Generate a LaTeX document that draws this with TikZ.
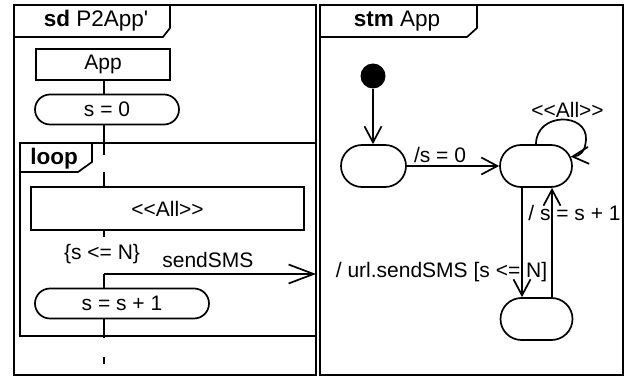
\documentclass[tikz,border=0pt]{standalone}
\usepackage{fontspec}
\setmainfont{Liberation Sans}[Ligatures=TeXOff]
\usetikzlibrary{arrows.meta,shapes.misc}
\tikzset{
  txt/.style={font=\fontsize{21}{25}\selectfont, inner sep=0pt},
  head/.style={font=\fontsize{22.5}{26}\selectfont, inner sep=0pt, anchor=base},
  actbox/.style={draw, txt, minimum width=#1, minimum height=31pt},
  action/.style={draw, txt, rounded rectangle, minimum width=#1, minimum height=30pt},
  state/.style={draw, rounded rectangle, minimum width=#1, minimum height=42pt, inner sep=0pt},
  barb/.style={-{Straight Barb[length=16pt,width=17pt]}},
  life/.style={line width=1.7pt}
}
\begin{document}
\begin{tikzpicture}[x=1pt,y=-1pt,line width=1.7pt]
\useasboundingbox (0,0) rectangle (628,379);
% sd frame
\draw (14,5) rectangle (316,375);
\draw (14,37) -- (163,37) -- (170,28) -- (170,5);
\node[head] (sdname) at (96,27) {\textbf{sd} P2App'};
% loop fragment
\draw (20,143) rectangle (316,336);
\draw (20,172) -- (78,172) -- (92,162) -- (92,143);
\node[head] (loopname) at (54,165) {\textbf{loop}};
% lifeline
\coordinate (ll) at (104,0);
\node[actbox=134] (app) at (103,64.5) {App};
\node[action=144] (init0) at (107,109.5) {s = 0};
\node[actbox=273, minimum height=43pt] (all) at (167.5,208.5) {<<All>>};
\node[txt, anchor=base] (guard) at (102,259) {\{s <= N\}};
\node[action=174] (inc) at (122,303.5) {s = s + 1};
\coordinate (g1a) at (104,155);
\coordinate (g1b) at (104,172);
\coordinate (g2a) at (104,237);
\coordinate (g2b) at (104,274);
\coordinate (g3a) at (104,338);
\coordinate (g3b) at (104,357);
\coordinate (lend) at (104,364);
\draw[life] (app.south -| ll) -- (init0.north -| ll);
\draw[life] (init0.south -| ll) -- (g1a);
\draw[life] (g1b) -- (all.north -| ll);
\draw[life] (all.south -| ll) -- (g2a);
\draw[life] (g2b) -- (inc.north -| ll);
\draw[life] (inc.south -| ll) -- (g3a);
\draw[life] (g3b) -- (lend);
% message to the gate
\coordinate (gate) at (316,274);
\draw[-{Straight Barb[length=25pt,width=19pt]}] (g2b) -- (gate)
  node[txt, pos=0.49, above=5pt] (sendmsg) {sendSMS};
% stm frame
\draw (320,5) rectangle (623,375);
\draw (320,37) -- (467,37) -- (477,28) -- (477,5);
\node[head] (stmname) at (397,27) {\textbf{stm} App};
\node[circle, fill, minimum size=25pt, inner sep=0pt] (start) at (373,76) {};
\node[state=65] (s1) at (373.5,166) {};
\node[state=72] (s2) at (536,166) {};
\node[state=72] (s3) at (536.5,319) {};
\coordinate (dn) at (522,0);
\coordinate (up) at (552,0);
\coordinate (loopr) at (586,140);
\draw[barb] (start) -- (start |- s1.north);
\draw[barb] (s1) -- (s2);
\node[txt, anchor=base] (lab0) at (440,163) {/s = 0};
\draw[barb] (s2.north) .. controls (536,112) and (588,112) .. (loopr)
  .. controls (585,152) and (580,156) .. (s2.15);
\node[txt, anchor=base] (laball) at (567.5,118) {<<All>>};
\draw[barb] (s2.south -| dn) -- (s3.north -| dn);
\node[txt, anchor=base] (labsend) at (441.5,277) {/ url.sendSMS [s <= N]};
\draw[barb] (s3.north -| up) -- (s2.south -| up);
\node[txt, anchor=base] (labinc) at (574.5,220) {/ s = s + 1};
\end{tikzpicture}
\end{document}
